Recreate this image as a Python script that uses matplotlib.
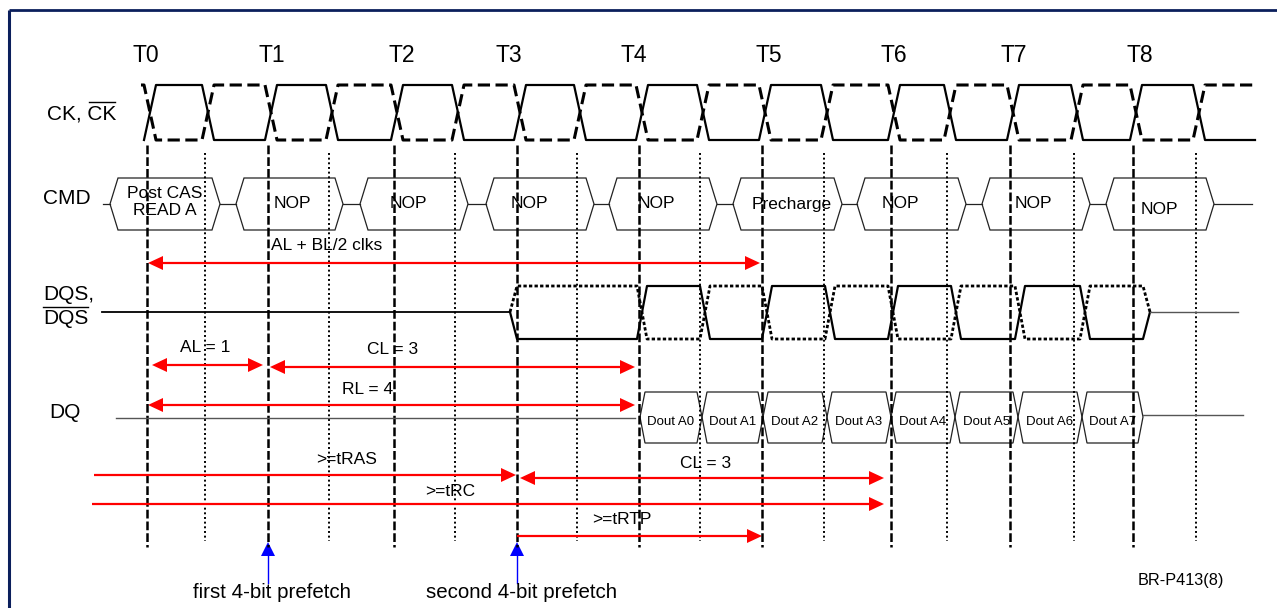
import matplotlib.pyplot as plt
from matplotlib.patches import Polygon

plt.rcParams['font.family'] = ['Liberation Sans', 'DejaVu Sans']

# clock edges (pixel x of the T lines) and half-cycle lines
t_labels = ["T0", "T1", "T2", "T3", "T4", "T5", "T6", "T7", "T8"]
t_label_x = [146, 272, 402, 509, 634, 769, 894, 1014, 1140]
t_edges = [147, 268, 394, 517, 639, 762, 891, 1010, 1133]
half_edges = [205, 329, 455, 577, 700, 824, 947, 1074, 1196]

# command bus
cmd_labels = ["Post CAS\nREAD A", "NOP", "NOP", "NOP", "NOP", "Precharge", "NOP", "NOP", "NOP"]
cmd_left = [110, 236, 360, 486, 609, 733, 857, 982, 1106]
cmd_right = [220, 343, 468, 594, 717, 842, 966, 1090, 1214]
cmd_text_x = [165, 292, 408, 529, 656, 792, 900, 1033, 1159]
cmd_text_y = [202, 203, 203, 203, 203, 204, 203, 203, 209]

# DQS strobe crossings
dqs_cross = [642, 705, 767, 830, 893, 956, 1020, 1085]

# DQ data eye boundaries
dq_labels = ["Dout A0", "Dout A1", "Dout A2", "Dout A3", "Dout A4", "Dout A5", "Dout A6", "Dout A7"]
dq_bounds = [640, 702, 763, 827, 891, 955, 1018, 1082, 1143]

# red timing arrows
arr_labels = ["AL + BL/2 clks", "AL = 1", "CL = 3", "RL = 4", ">=tRAS", "CL = 3", ">=tRC", ">=tRTP"]
arr_x0 = [148, 152, 270, 148, 94, 520, 92, 517]
arr_x1 = [760, 263, 635, 635, 516, 884, 884, 762]
arr_y = [263, 365, 367, 405, 475, 478, 504, 536]
arr_left_head = [True, True, True, True, False, True, False, False]
arr_label_x = [327, 205, 393, 368, 347, 706, 450, 622]
arr_label_y = [245, 348, 350, 390, 460, 464, 491, 520]

# blue prefetch markers
prefetch_labels = ["first 4-bit prefetch", "second 4-bit prefetch"]
prefetch_x = [268, 517]
prefetch_text_x = [272, 522]

W, H = 1277, 608
fig = plt.figure(figsize=(12.77, 6.08), dpi=100)
ax = fig.add_axes([0, 0, 1, 1])
ax.set_xlim(0, W)
ax.set_ylim(H, 0)
ax.axis('off')


def toggle_wave(x_start, x_end, crossings, first_high, hi, lo, hw):
    xs, ys = [x_start], [hi if first_high else lo]
    level = first_high
    for c in crossings:
        xs += [c - hw, c + hw]
        ys += [hi if level else lo, lo if level else hi]
        level = not level
    xs.append(x_end)
    ys.append(hi if level else lo)
    return xs, ys


# frame
ax.plot([9, W], [10, 10], color='#0b1f5c', lw=2, solid_capstyle='butt')
ax.plot([9, 9], [10, H], color='#0b1f5c', lw=2.2, solid_capstyle='butt')

# T labels
for lab, x in zip(t_labels, t_label_x):
    ax.text(x, 55, lab, ha='center', va='center', fontsize=16.5)

# clock
ck_cross = sorted(t_edges + half_edges)
ck_cross = [c + 3 for c in ck_cross]
xs, ys = toggle_wave(144, 1255, ck_cross, False, 85, 140, 6)
ax.plot(xs, ys, color='black', lw=1.6)
xs, ys = toggle_wave(141, 1257, ck_cross, True, 85, 140, 6)
ax.plot(xs, ys, color='black', lw=2.2, linestyle=(0, (4, 1.8)))

# vertical reference lines
for x in t_edges:
    ax.plot([x, x], [145, 547], color='black', lw=1.8, linestyle=(0, (3.5, 1.2)))
for x in half_edges:
    ax.plot([x, x], [153, 541], color='black', lw=1.4, linestyle=(0, (1, 1.4)))

# row labels
ax.text(47, 114, "CK, CK", ha='left', va='center', fontsize=15)
ax.plot([89, 115], [102, 102], color='black', lw=1)
ax.text(43, 199, "CMD", ha='left', va='center', fontsize=15)
ax.text(43, 295, "DQS,", ha='left', va='center', fontsize=15)
ax.text(43, 319, "DQS", ha='left', va='center', fontsize=15)
ax.plot([43, 88], [307, 307], color='black', lw=1)
ax.text(49, 412, "DQ", ha='left', va='center', fontsize=15)

# command bus
cmd_mid, cmd_top, cmd_bot, sl = 204, 178, 230, 8
ax.plot([103, cmd_left[0]], [cmd_mid, cmd_mid], color='#222222', lw=0.9)
for i in range(len(cmd_left)):
    l, r = cmd_left[i], cmd_right[i]
    ax.add_patch(Polygon([[l, cmd_mid], [l + sl, cmd_top], [r - sl, cmd_top], [r, cmd_mid],
                          [r - sl, cmd_bot], [l + sl, cmd_bot]], closed=True, fill=False,
                         edgecolor='#222222', lw=0.9))
    nxt = cmd_left[i + 1] if i + 1 < len(cmd_left) else 1252
    ax.plot([r, nxt], [cmd_mid, cmd_mid], color='#222222', lw=0.9)
    ax.text(cmd_text_x[i], cmd_text_y[i], cmd_labels[i], ha='center', va='center',
            fontsize=12.5, linespacing=1.1)

# DQS
ax.plot([102, 510], [312, 312], color='black', lw=1.3)
xs, ys = toggle_wave(517, 1143, dqs_cross, False, 286, 339, 5)
ax.plot([510] + xs + [1150], [312] + ys + [312], color='black', lw=1.6)
xs, ys = toggle_wave(517, 1143, dqs_cross, True, 286, 339, 5)
ax.plot([510] + xs + [1150], [312] + ys + [312], color='black', lw=2.0, linestyle=(0, (1.2, 0.8)))
ax.plot([1150, 1238], [312, 312], color='#555555', lw=1)

# DQ
dq_top, dq_bot, dq_mid, dsl = 392, 443, 417, 5
ax.plot([116, 635], [418, 418], color='#555555', lw=1)
for i, lab in enumerate(dq_labels):
    l, r = dq_bounds[i], dq_bounds[i + 1]
    ax.add_patch(Polygon([[l, dq_mid], [l + dsl, dq_top], [r - dsl, dq_top], [r, dq_mid],
                          [r - dsl, dq_bot], [l + dsl, dq_bot]], closed=True, fill=False,
                         edgecolor='#222222', lw=0.9))
    ax.text((l + r) / 2, 422, lab, ha='center', va='center', fontsize=9.5)
ax.plot([dq_bounds[-1], 1243], [415, 415], color='#555555', lw=1)


# red arrows
def red_arrow(x0, x1, y, left):
    hl, hh = 15, 7
    lx0 = x0 + hl if left else x0
    ax.plot([lx0, x1 - hl], [y, y], color='#ff0000', lw=1.6, solid_capstyle='butt')
    ax.add_patch(Polygon([[x1, y], [x1 - hl, y - hh], [x1 - hl, y + hh]], closed=True,
                         facecolor='#ff0000', edgecolor='none'))
    if left:
        ax.add_patch(Polygon([[x0, y], [x0 + hl, y - hh], [x0 + hl, y + hh]], closed=True,
                             facecolor='#ff0000', edgecolor='none'))


for i, lab in enumerate(arr_labels):
    red_arrow(arr_x0[i], arr_x1[i], arr_y[i], arr_left_head[i])
    ax.text(arr_label_x[i], arr_label_y[i], lab, ha='center', va='center', fontsize=12.5)

# blue prefetch markers
for x, tx, lab in zip(prefetch_x, prefetch_text_x, prefetch_labels):
    ax.plot([x, x], [583, 554], color='#0000ff', lw=1)
    ax.add_patch(Polygon([[x, 542], [x - 7, 556], [x + 7, 556]], closed=True,
                         facecolor='#0000ff', edgecolor='none'))
    ax.text(tx, 592, lab, ha='center', va='center', fontsize=14.8)

ax.text(1181, 580, "BR-P413(8)", ha='center', va='center', fontsize=11.7)

fig.savefig("out.png", dpi=100)
